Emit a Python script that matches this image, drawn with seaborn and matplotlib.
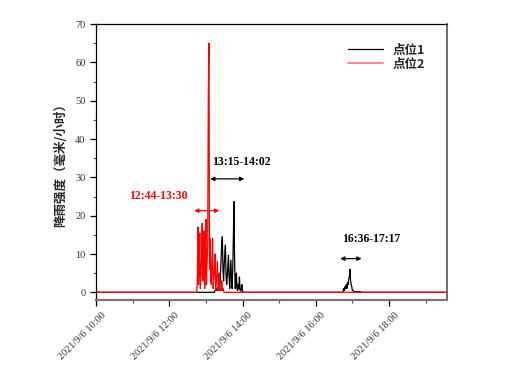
import numpy as np
import pandas as pd
import matplotlib
matplotlib.use("Agg")
import matplotlib.pyplot as plt
import matplotlib.dates as mdates
from matplotlib.ticker import FuncFormatter, MultipleLocator
from matplotlib.transforms import ScaledTranslation
from matplotlib.lines import Line2D
import seaborn as sns

# ---------------- data ----------------
t_start = "2021-09-06 10:00"
t_end = "2021-09-06 19:35"
series_names = ["点位1", "点位2"]

# 点位2 (red) minute values starting 12:44
red_start = "2021-09-06 12:44"
red_vals = [0, 0, 3, 17, 2, 6, 15.5, 1, 4, 9, 18, 3, 5, 16, 1, 7, 19, 2, 8, 12,
            53, 65, 6, 14, 3, 2, 9, 14, 1, 4, 6, 10, 0.5, 3, 5, 8, 0.5, 2, 5, 0.5,
            1, 0.5, 3, 0.5, 1, 0.3, 0]

# 点位1 (black) first event starting 13:15
blk1_start = "2021-09-06 13:15"
blk1_vals = [0.5, 1, 0.5, 1, 0.5, 1, 1.5, 0.5, 2, 5, 9, 13, 14.5, 6, 3, 7, 10, 12.3, 5, 2,
             4, 7, 9.7, 4, 1, 5, 8.4, 3, 1, 6, 14, 23.7, 9, 1, 2, 5, 1, 0.5, 2, 1,
             4, 0.5, 0.3, 1, 2, 0.3, 0.1, 0]

# 点位1 (black) second event starting 16:36
blk2_start = "2021-09-06 16:36"
blk2_vals = [0, 0, 0, 0, 0, 0, 0, 0, 0, 0.5, 1, 0.5, 1.5, 1, 2, 1, 2.5, 2, 3.5, 4,
             6, 3, 2, 1.5, 0.5, 0.5, 0.3, 0.2, 0.2, 0.1, 0.2, 0.1, 0.2, 0.1, 0.2, 0.1,
             0.2, 0.1, 0.1, 0, 0, 0]

annotations = [
    # text, text time, text y, arrow from, arrow to, arrow y, color
    ("12:44-13:30", "2021-09-06 11:42", 25.2, "2021-09-06 12:41", "2021-09-06 13:22", 21.3, "red"),
    ("13:15-14:02", "2021-09-06 13:58", 34.1, "2021-09-06 13:07", "2021-09-06 14:03", 29.6, "black"),
    ("16:36-17:17", "2021-09-06 17:31", 13.9, "2021-09-06 16:40", "2021-09-06 17:15", 8.8, "black"),
]

# ---------------- build frame ----------------
idx = pd.date_range(t_start, t_end, freq="1min")
s_red = pd.Series(0.0, index=idx)
s_blk = pd.Series(0.0, index=idx)
s_red.loc[pd.date_range(red_start, periods=len(red_vals), freq="1min")] = red_vals
s_blk.loc[pd.date_range(blk1_start, periods=len(blk1_vals), freq="1min")] = blk1_vals
s_blk.loc[pd.date_range(blk2_start, periods=len(blk2_vals), freq="1min")] = blk2_vals

df = pd.concat([
    pd.DataFrame({"time": idx, "value": s_blk.values, "site": series_names[0]}),
    pd.DataFrame({"time": idx, "value": s_red.values, "site": series_names[1]}),
])

# ---------------- plot ----------------
sns.set_theme(style="white")
plt.rcParams["font.family"] = ["Liberation Serif", "Noto Sans CJK SC", "DejaVu Sans"]

fig = plt.figure(figsize=(5.16, 3.85), dpi=100)
ax = fig.add_axes([96 / 516, 1 - 300 / 385, (447 - 96) / 516, (300 - 24) / 385])

sns.lineplot(data=df, x="time", y="value", hue="site", hue_order=series_names,
             palette={"点位1": "black", "点位2": "red"}, lw=0.9, ax=ax,
             estimator=None, legend=False)

ax.set_xlim(pd.Timestamp(t_start), pd.Timestamp(t_end))
ax.set_ylim(-2, 70)

ax.xaxis.set_major_locator(mdates.HourLocator(byhour=range(0, 24, 2)))
ax.xaxis.set_minor_locator(mdates.HourLocator())
ax.xaxis.set_major_formatter(FuncFormatter(
    lambda v, p: (lambda d: f"{d.year}/{d.month}/{d.day} {d:%H:%M}")(mdates.num2date(v))))
ax.yaxis.set_major_locator(MultipleLocator(10))
ax.yaxis.set_minor_locator(MultipleLocator(5))

ax.tick_params(axis="both", which="major", direction="out", length=4, width=0.9,
               color="black", labelsize=7.5, labelcolor="#333333",
               bottom=True, left=True)
ax.tick_params(axis="both", which="minor", direction="out", length=2, width=0.8,
               color="#555555", bottom=True, left=True)
offset = ScaledTranslation(5 / 100, 0, fig.dpi_scale_trans)
for lab in ax.get_xticklabels():
    lab.set_rotation(45)
    lab.set_ha("right")
    lab.set_rotation_mode("anchor")
    lab.set_transform(lab.get_transform() + offset)

for sp in ["left", "top"]:
    ax.spines[sp].set_color("black")
    ax.spines[sp].set_linewidth(0.9)
ax.spines["bottom"].set_color("#777777")
ax.spines["bottom"].set_linewidth(1.6)
ax.spines["right"].set_color("#555555")
ax.spines["right"].set_linewidth(1.2)

ax.set_xlabel("")
ax.set_ylabel("降雨强度（毫米/小时）", fontsize=9, fontweight="bold",
              family=["Noto Sans CJK SC", "DejaVu Sans"], labelpad=6)

for text, tx, ty, a1, a2, ay, col in annotations:
    ax.text(pd.Timestamp(tx), ty, text, color=col, fontsize=8.5, fontweight="bold",
            ha="center", va="center", family=["Liberation Serif"])
    ax.annotate("", xy=(pd.Timestamp(a1), ay), xytext=(pd.Timestamp(a2), ay),
                arrowprops=dict(arrowstyle="<|-|>", color=col, lw=0.9,
                                mutation_scale=6, shrinkA=0, shrinkB=0))

handles = [Line2D([], [], color="black", lw=0.9), Line2D([], [], color="#ff7070", lw=1.2)]
leg = ax.legend(handles, series_names, loc="upper right", bbox_to_anchor=(0.97, 0.97),
                frameon=False, handlelength=2.8, labelspacing=0.1,
                prop={"family": ["Noto Sans CJK SC"], "weight": "bold", "size": 9})

fig.savefig("out.png", dpi=100)
